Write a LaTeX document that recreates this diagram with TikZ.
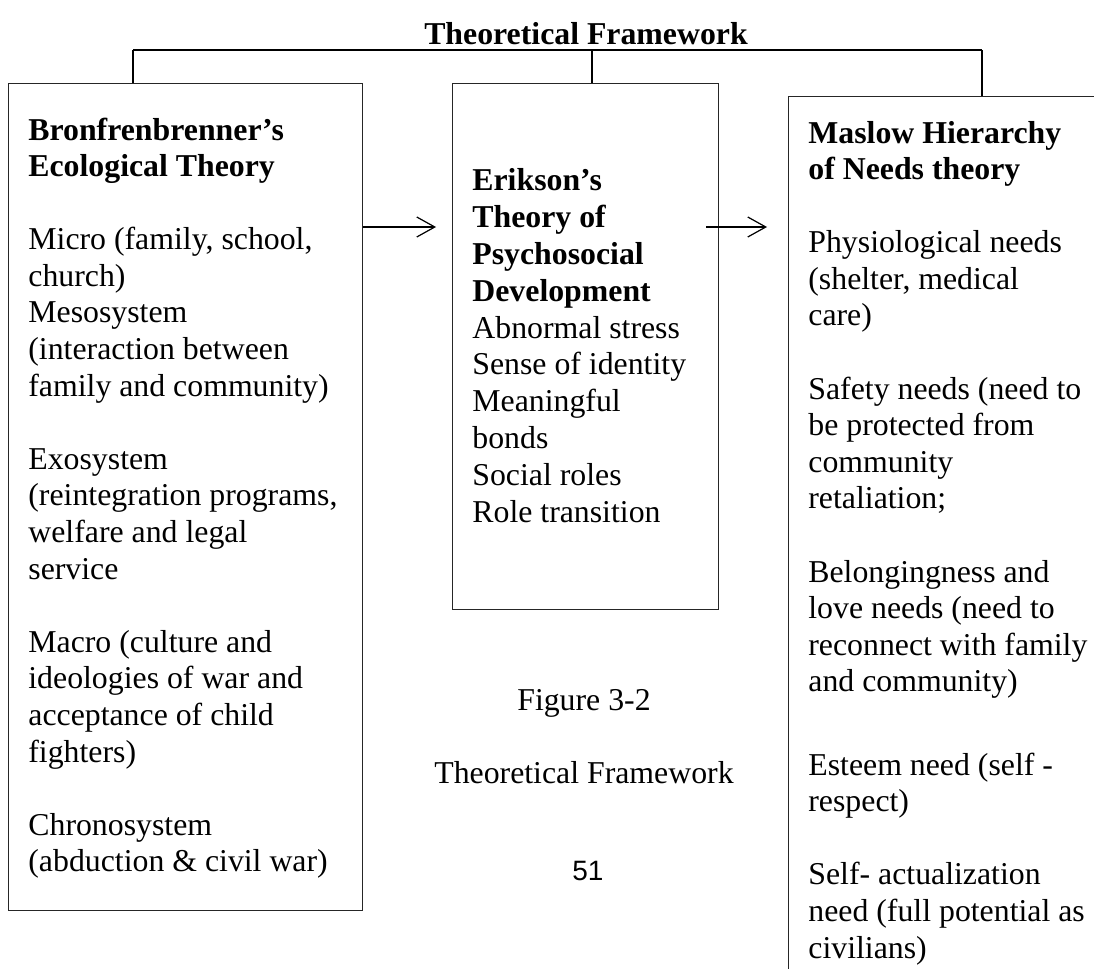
\documentclass[tikz,border=0pt]{standalone}
\usepackage{fontspec}
\setmainfont{Liberation Serif}
\newfontfamily\pagenumfont{Liberation Sans}
\usetikzlibrary{arrows.meta,calc}
\newcommand\boxfont{\fontsize{15.9}{18.3}\selectfont}
\newcommand\midfont{\fontsize{15.9}{18.5}\selectfont}
\begin{document}
\begin{tikzpicture}[x=0.5pt,y=-0.5pt,
  box/.style={draw=black!85, line width=0.6pt, inner sep=0pt, anchor=north west},
  txt/.style={inner sep=0pt, anchor=base west},
  conn/.style={line width=0.6pt},
  arr/.style={line width=0.6pt, -{Straight Barb[length=9pt,width=10pt,line width=0.6pt]}}]
\useasboundingbox (0,0) rectangle (1094,969);
\clip (0,0) rectangle (1094,969);

% title
\node[anchor=base, inner sep=0pt] (title) at (586,44) {\boxfont\bfseries Theoretical Framework};

% boxes
\node[box, minimum width=177pt, minimum height=413.5pt] (L) at (8,83) {};
\node[box, minimum width=133pt, minimum height=263pt] (M) at (452,83) {};
\node[box, minimum width=160pt, minimum height=445pt] (R) at (788,96) {};

% bracket
\coordinate (bl) at (133,50);
\coordinate (bm) at (592,50);
\coordinate (br) at (982,50);
\draw[conn, line width=1pt] (bl) -- (br);
\draw[conn] (bl) -- (bl |- L.north);
\draw[conn] (bm) -- (bm |- M.north);
\draw[conn] (br) -- (br |- R.north);

% left text
\node[txt] (Lt) at (28,140) {\parbox[t]{170pt}{\boxfont\raggedright
\textbf{Bronfrenbrenner’s}\\
\textbf{Ecological Theory}\\[18.3pt]
Micro (family, school,\\
church)\\
Mesosystem\\
(interaction between\\
family and community)\\[18.3pt]
Exosystem\\
(reintegration programs,\\
welfare and legal\\
service\\[18.3pt]
Macro (culture and\\
ideologies of war and\\
acceptance of child\\
fighters)\\[18.3pt]
Chronosystem\\
(abduction \& civil war)}};

% middle text
\node[txt] (Mt) at (472,190) {\parbox[t]{125pt}{\midfont\raggedright
\textbf{Erikson’s}\\
\textbf{Theory of}\\
\textbf{Psychosocial}\\
\textbf{Development}\\
Abnormal stress\\
Sense of identity\\
Meaningful\\
bonds\\
Social roles\\
Role transition}};

% right text
\node[txt] (Rt) at (808,143) {\parbox[t]{150pt}{\boxfont\raggedright
\textbf{Maslow Hierarchy}\\
\textbf{of Needs theory}\\[18.3pt]
Physiological needs\\
(shelter, medical\\
care)\\[18.3pt]
Safety needs (need to\\
be protected from\\
community\\
retaliation;\\[18.3pt]
Belongingness and\\
love needs (need to\\
reconnect with family\\
and community)\\[23.3pt]
Esteem need (self -\\
respect)\\[18.3pt]
Self- actualization\\
need (full potential as\\
civilians)}};

% arrows
\coordinate (a1s) at ($(L.north east)+(0,144)$);
\coordinate (a1e) at ($(M.north west)+(-16,144)$);
\coordinate (a2s) at ($(M.north east)+(-13,144)$);
\coordinate (a2e) at ($(R.north west)+(-21,131)$);
\draw[arr] (a1s) -- (a1e);
\draw[arr] (a2s) -- (a2e);

% caption
\node[anchor=base, inner sep=0pt] (fig) at (584,710) {\boxfont Figure 3-2};
\node[anchor=base, inner sep=0pt] (cap) at (584,783) {\boxfont Theoretical Framework};
\node[anchor=base, inner sep=0pt] (pg) at (588,880) {\pagenumfont\fontsize{14}{16}\selectfont 51};
\end{tikzpicture}
\end{document}
